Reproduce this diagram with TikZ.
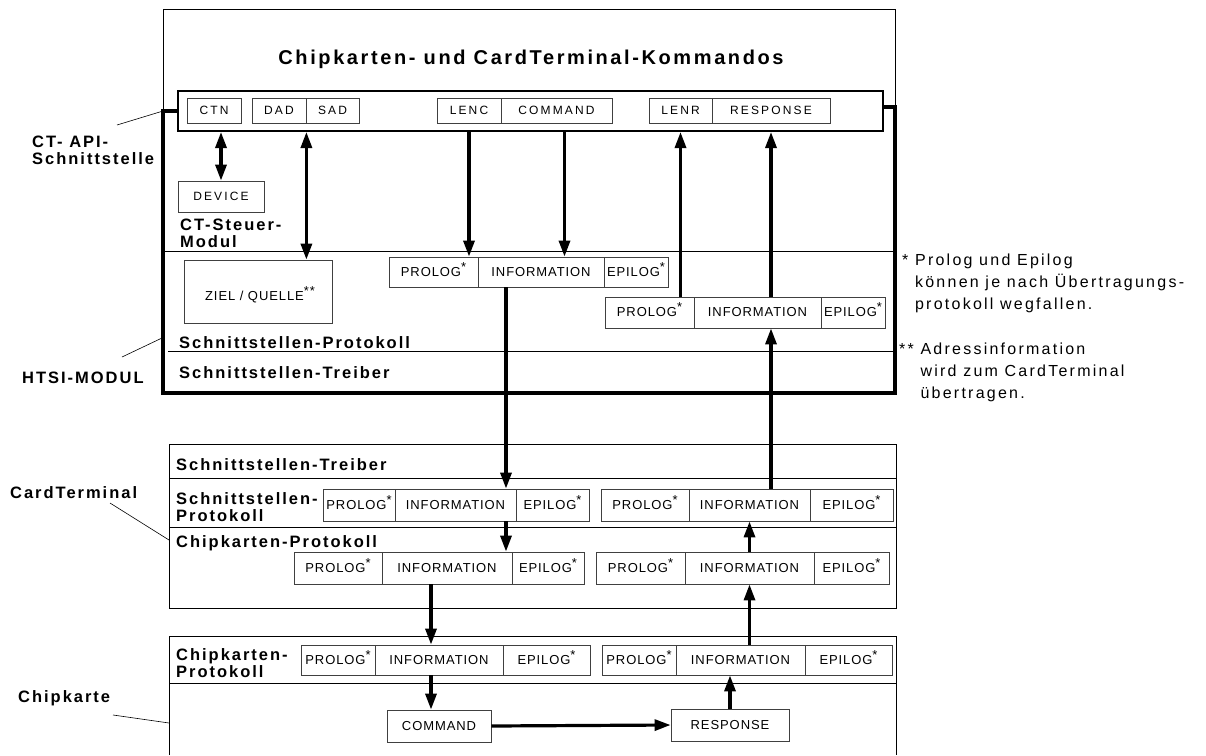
\documentclass[tikz,border=0pt]{standalone}
\usepackage{fontspec}
\setmainfont{Liberation Sans}
\newfontfamily\titelfont[LetterSpace=13]{Liberation Sans}
\newfontfamily\weitfont[LetterSpace=12]{Liberation Sans}
\newfontfamily\kopffont[LetterSpace=18]{Liberation Sans}
\newfontfamily\feldfont[LetterSpace=7]{Liberation Sans}
\newfontfamily\notizfont[LetterSpace=14]{Liberation Sans}
\newcommand{\stern}[1]{\smash{\raisebox{5pt}{#1}}}
\usetikzlibrary{arrows.meta}

\begin{document}
\begin{tikzpicture}[x=1pt, y=-1pt,
		kopffeld/.style={draw=black!75, line width=0.8pt, inner sep=0pt, font=\kopffont\fontsize{12}{14}\selectfont},
		feld/.style={draw=black!75, line width=0.8pt, inner sep=0pt, font=\feldfont\fontsize{13}{15}\selectfont},
		marke/.style={inner sep=0pt, anchor=west, align=left, font=\weitfont\bfseries\fontsize{16.5}{17}\selectfont},
		notiz/.style={inner sep=0pt, anchor=north west, align=left, font=\notizfont\fontsize{16}{22}\selectfont},
		pfeil/.style={line width=3.2pt, -{Triangle[length=16pt,width=11pt]}},
		doppelpfeil/.style={line width=3.2pt, {Triangle[length=16pt,width=11pt]}-{Triangle[length=16pt,width=11pt]}},
		zeiger/.style={line width=0.6pt},
		rahmen/.style={line width=4pt, line join=miter}]
		\useasboundingbox (0,0) rectangle (1206,755);

		\node[font=\titelfont\bfseries\fontsize{20}{20}\selectfont] (titel) at (531,59) {Chipkarten- und CardTerminal-Kommandos};
		\node[draw, line width=2pt, minimum width=705, minimum height=40, inner sep=0pt] (api) at (530.5,111) {};
		\foreach \kurz/\xa/\xb/\wort in {ctn/187/241/CTN, dad/252/306/DAD, sad/306/359/SAD, lenc/437/501/LENC, cmd/501/612/COMMAND, lenr/649/712/LENR, rsp/712/830/RESPONSE}{
			\node[kopffeld, minimum width={\xb-\xa}, minimum height=25] (\kurz) at ({(\xa+\xb)/2},110.5) {\wort};
		}
		\node[kopffeld, minimum width=86, minimum height=31] (device) at (221,196.5) {DEVICE};
		\node[feld, minimum width=148, minimum height=63] (ziel) at (258,291.5) {};
		\node[feld, draw=none] (zieltext) at (260,297) {ZIEL / QUELLE\stern{**}};
		\node[feld, minimum width=104, minimum height=32] (befehl) at (439,726) {COMMAND};
		\node[feld, minimum width=118, minimum height=32] (antwort) at (730,725) {RESPONSE};

		\foreach \zeile/\xa/\xb/\xc/\xd/\ya/\yb in {ha/389/478/604/668/257/287, hb/605/694/821/885/297/328, ka/323/395/516/589/489/521, kb/601/689/810/893/489/521, kc/294/382/512/584/552/584, kd/596/685/814/889/552/584, ca/301/375/503/590/645/675, cb/602/676/805/892/645/675}{
			\node[feld, minimum width={\xb-\xa}, minimum height={\yb-\ya}] (\zeile-p) at ({(\xa+\xb)/2},{(\ya+\yb)/2}) {PROLOG\stern{*}};
			\node[feld, minimum width={\xc-\xb}, minimum height={\yb-\ya}] (\zeile-i) at ({(\xb+\xc)/2},{(\ya+\yb)/2}) {INFORMATION};
			\node[feld, minimum width={\xd-\xc}, minimum height={\yb-\ya}] (\zeile-e) at ({(\xc+\xd)/2},{(\ya+\yb)/2}) {EPILOG\stern{*}};
		}

		\draw[line width=1pt] (163,111) -- (163,9) -- (895,9) -- (895,107);
		\draw[rahmen] (api.west) -| (163,393) -| (895,107) -- ([yshift=4pt]api.east);
		\draw (163,251) -- (895,251);
		\draw (168,351) -- (895,351);
		\draw (169,444) rectangle (896,608);
		\draw (169,478) -- (896,478);
		\draw (169,527) -- (896,527);
		\draw (169,755) |- (896,636) -- (896,755);
		\draw (169,683) -- (896,683);

		\node[marke] (steuer) at (180,233) {CT-Steuer-\\Modul};
		\node[marke] (hprot) at (179,343) {Schnittstellen-Protokoll};
		\node[marke] (htreib) at (179,373) {Schnittstellen-Treiber};
		\node[marke] (ktreib) at (176,465) {Schnittstellen-Treiber};
		\node[marke] (kprot) at (176,507) {Schnittstellen-\\Protokoll};
		\node[marke] (kchip) at (176,543) {Chipkarten-Protokoll};
		\node[marke] (cprot) at (176,663) {Chipkarten-\\Protokoll};

		\node[marke] (apilab) at (32,150) {CT- API-\\Schnittstelle};
		\node[marke] (htsilab) at (22,378) {HTSI-MODUL};
		\node[marke] (ctlab) at (10,493) {CardTerminal};
		\node[marke] (chiplab) at (18,698) {Chipkarte};
		\coordinate (apifuss) at (117,125);
		\coordinate (apikopf) at (163,111);
		\coordinate (htsifuss) at (122,357);
		\coordinate (htsikopf) at (162,338);
		\coordinate (ctfuss) at (110,503);
		\coordinate (ctkopf) at (169,540);
		\coordinate (chipfuss) at (113,715);
		\coordinate (chipkopf) at (169,723);
		\draw[zeiger] (apifuss) -- (apikopf);
		\draw[zeiger] (htsifuss) -- (htsikopf);
		\draw[zeiger] (ctfuss) -- (ctkopf);
		\draw[zeiger] (chipfuss) -- (chipkopf);

		\node[notiz] (notiz1) at (902,254) {* Prolog und Epilog\\\phantom{* }können je nach Übertragungs-\\\phantom{* }protokoll wegfallen.};
		\node[notiz] (notiz2) at (899,343) {** Adressinformation\\\phantom{** }wird zum CardTerminal\\\phantom{** }übertragen.};

		\draw[doppelpfeil] (device.north |- api.south) -- (device.north);
		\draw[doppelpfeil] (dad.south east |- api.south) -- (dad.south east |- ziel.north);
		\draw[pfeil] (lenc.south |- api.south) -- (lenc.south |- ha-p.north);
		\draw[pfeil] ([xshift=8pt]cmd.south |- api.south) -- ([xshift=8pt]cmd.south |- ha-i.north);
		\draw[pfeil] (lenr.south |- hb-p.north) -- (lenr.south |- api.south);
		\draw[pfeil] (rsp.south |- hb-i.north) -- (rsp.south |- api.south);
		\draw[pfeil] ([xshift=-35pt]ha-i.south) -- ([xshift=-35pt]ha-i.south |- ka-i.north);
		\draw[pfeil] ([xshift=-35pt]ha-i.south |- ka-i.south) -- ([xshift=-35pt]ha-i.south |- kc-i.north);
		\draw[pfeil] ([xshift=-8pt]ca-i.north |- kc-i.south) -- ([xshift=-8pt]ca-i.north);
		\draw[pfeil] ([xshift=-8pt]ca-i.south) -- ([xshift=-8pt]ca-i.south |- befehl.north);
		\draw[pfeil] (befehl.east) -- (antwort.west);
		\draw[pfeil] (antwort.north) -- (antwort.north |- cb-i.south);
		\draw[pfeil] (kd-i.south |- cb-i.north) -- (kd-i.south);
		\draw[pfeil] (kd-i.north) -- (kd-i.north |- kb-i.south);
		\draw[pfeil] (rsp.south |- kb-i.north) -- (rsp.south |- hb-i.south);
	\end{tikzpicture}
\end{document}
